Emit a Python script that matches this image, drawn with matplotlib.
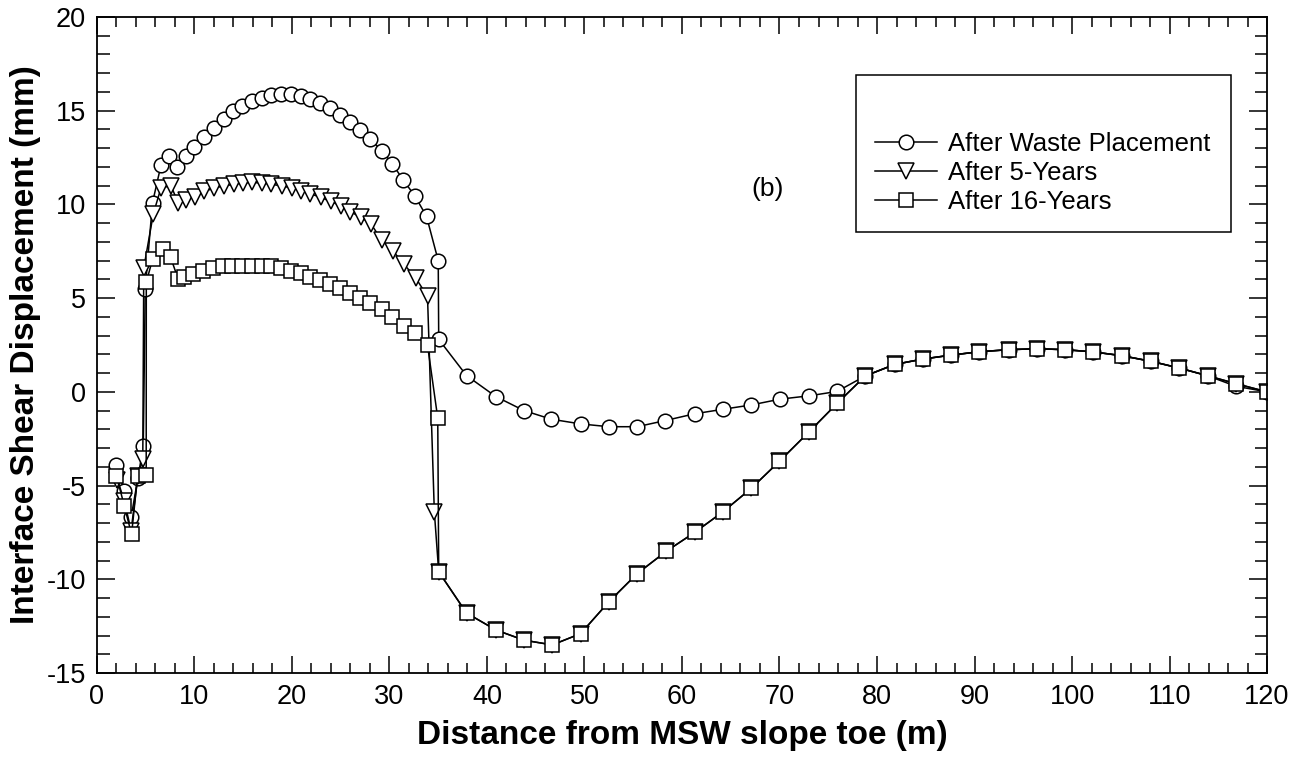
import matplotlib.pyplot as plt
from matplotlib.ticker import MultipleLocator
from matplotlib.patches import Rectangle

plt.rcParams['font.family'] = ['Liberation Sans', 'DejaVu Sans']
plt.rcParams['axes.unicode_minus'] = False

# After Waste Placement (circles)
circ_x = [2.0, 2.8, 3.5, 4.2, 4.75, 4.95, 5.7, 6.56, 7.4, 8.2, 9.1, 10.0, 11.0, 12.0, 13.0, 14.0,
          14.9, 15.9, 16.9, 17.9, 18.9, 19.9, 20.9, 21.9, 22.9, 23.9, 24.9, 25.95, 27.0, 28.0,
          29.2, 30.3, 31.4, 32.6, 33.8, 35.0, 35.05, 37.9, 40.9, 43.8, 46.6, 49.6, 52.5, 55.4,
          58.3, 61.3, 64.2, 67.1, 70.05, 73.06, 75.9, 78.8, 81.8, 84.7, 87.6, 90.5, 93.5, 96.4,
          99.3, 102.2, 105.1, 108.1, 111.0, 113.9, 116.8, 120.0]
circ_y = [-3.9, -5.3, -6.7, -4.6, -2.9, 5.5, 10.1, 12.08, 12.56, 12.0, 12.6, 13.06, 13.59, 14.07,
          14.55, 14.96, 15.26, 15.53, 15.70, 15.83, 15.9, 15.87, 15.76, 15.62, 15.4, 15.14, 14.78,
          14.42, 13.98, 13.5, 12.87, 12.17, 11.3, 10.46, 9.36, 7.0, 2.8, 0.87, -0.25, -1.0, -1.46,
          -1.71, -1.86, -1.86, -1.53, -1.17, -0.93, -0.70, -0.39, -0.21, 0.02, 0.85, 1.46, 1.75,
          1.96, 2.14, 2.25, 2.3, 2.25, 2.13, 1.93, 1.63, 1.27, 0.86, 0.3, 0.0]

# After 5-Years (triangles)
tri_x = [2.1, 2.8, 3.5, 4.2, 4.7, 4.8, 5.78, 6.56, 7.59, 8.34, 9.13, 10.05, 11.0, 12.0, 13.06,
         14.05, 14.94, 15.93, 16.95, 17.9, 18.94, 19.97, 20.9, 21.9, 22.97, 23.96, 25.0, 25.95,
         27.05, 28.1, 29.2, 30.4, 31.5, 32.7, 33.9, 34.6, 35.05, 37.9, 40.9, 43.8, 46.7, 49.6,
         52.5, 55.4, 58.4, 61.3, 64.2, 67.1, 70.0, 73.0, 75.9, 78.8, 81.8, 84.7, 87.6, 90.5,
         93.5, 96.4, 99.3, 102.2, 105.1, 108.1, 111.0, 113.9, 116.8, 120.0]
tri_y = [-4.7, -5.8, -7.4, -4.5, -3.6, 6.6, 9.5, 10.87, 11.0, 10.07, 10.25, 10.42, 10.69, 10.87,
         10.99, 11.07, 11.14, 11.17, 11.14, 11.07, 10.99, 10.87, 10.74, 10.57, 10.37, 10.16, 9.93,
         9.62, 9.32, 8.96, 8.1, 7.49, 6.8, 6.07, 5.09, -6.4, -9.6, -11.8, -12.7, -13.25, -13.5,
         -12.9, -11.2, -9.7, -8.5, -7.5, -6.4, -5.15, -3.7, -2.15, -0.62, 0.85, 1.46, 1.75, 1.96,
         2.14, 2.25, 2.3, 2.25, 2.13, 1.93, 1.63, 1.27, 0.86, 0.44, 0.0]

# After 16-Years (squares)
sq_x = [2.0, 2.8, 3.55, 4.17, 5.05, 5.06, 5.7, 6.73, 7.55, 8.34, 8.9, 9.8, 10.9, 11.85, 12.9,
        13.9, 14.9, 15.9, 16.9, 17.85, 18.87, 19.9, 20.9, 21.8, 22.9, 23.9, 24.9, 25.9, 26.97,
        28.0, 29.2, 30.3, 31.5, 32.6, 33.9, 34.95, 35.05, 37.9, 40.9, 43.8, 46.7, 49.6, 52.5,
        55.4, 58.4, 61.3, 64.2, 67.1, 70.0, 73.0, 75.9, 78.8, 81.8, 84.7, 87.6, 90.5, 93.5,
        96.4, 99.3, 102.2, 105.1, 108.1, 111.0, 113.9, 116.8, 120.0]
sq_y = [-4.47, -6.08, -7.6, -4.47, -4.43, 5.85, 7.07, 7.6, 7.18, 6.0, 6.15, 6.3, 6.47, 6.6, 6.69,
        6.72, 6.72, 6.72, 6.72, 6.69, 6.6, 6.47, 6.33, 6.15, 5.98, 5.76, 5.53, 5.27, 5.0, 4.73,
        4.4, 3.98, 3.49, 3.13, 2.5, -1.4, -9.6, -11.8, -12.7, -13.25, -13.5, -12.9, -11.2, -9.7,
        -8.5, -7.5, -6.4, -5.15, -3.7, -2.15, -0.62, 0.85, 1.46, 1.75, 1.96, 2.14, 2.25, 2.3,
        2.25, 2.13, 1.93, 1.63, 1.27, 0.86, 0.44, 0.0]

fig = plt.figure(figsize=(13.05, 7.75), dpi=100)
ax = fig.add_axes([0.0743, 0.1316, 0.8966, 0.8465])

style = dict(color='black', linewidth=1.1, markerfacecolor='white', markeredgecolor='black',
             markeredgewidth=1.1)
ax.plot(circ_x, circ_y, marker='o', markersize=10.5, label='After Waste Placement', **style)
ax.plot(tri_x, tri_y, marker='v', markersize=11, label='After 5-Years', **style)
ax.plot(sq_x, sq_y, marker='s', markersize=10, label='After 16-Years', **style)

ax.set_xlim(0, 120)
ax.set_ylim(-15, 20)
ax.xaxis.set_major_locator(MultipleLocator(10))
ax.xaxis.set_minor_locator(MultipleLocator(2))
ax.yaxis.set_major_locator(MultipleLocator(5))
ax.yaxis.set_minor_locator(MultipleLocator(1))
ax.tick_params(which='both', direction='in', top=True, right=True, width=1.1, labelsize=19.5)
ax.tick_params(axis='x', which='major', length=12, pad=8)
ax.tick_params(axis='x', which='minor', length=7)
ax.tick_params(axis='y', which='major', length=13, pad=8)
ax.tick_params(axis='y', which='minor', length=9)
for s in ax.spines.values():
    s.set_linewidth(1.3)

ax.set_xlabel('Distance from MSW slope toe (m)', fontsize=24, fontweight='bold', labelpad=7)
ax.set_ylabel('Interface Shear Displacement (mm)', fontsize=24, fontweight='bold', labelpad=4)

ax.text(68.8, 10.8, '(b)', fontsize=19, ha='center', va='center')

# legend frame drawn separately (extra space above the entries, as in the original)
ax.add_patch(Rectangle((0.649, 0.672), 0.3205, 0.2396, transform=ax.transAxes,
                       facecolor='white', edgecolor='black', linewidth=1.1, zorder=4))
leg = ax.legend(loc='upper left', bbox_to_anchor=(0.665, 0.825), fontsize=18.5, frameon=False,
                handlelength=2.4, handletextpad=0.45, labelspacing=0.2, borderpad=0,
                borderaxespad=0)
leg.set_zorder(5)

plt.savefig('out.png', dpi=100)
